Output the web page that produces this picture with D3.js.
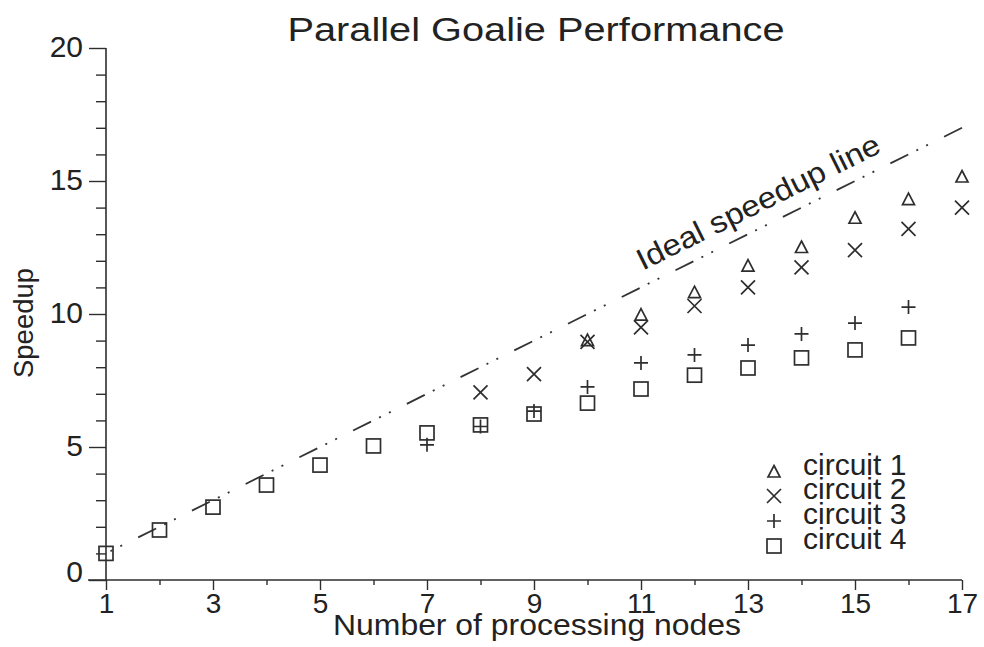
<!DOCTYPE html>
<html>
<head>
<meta charset="utf-8">
<script src="https://cdn.jsdelivr.net/npm/d3@7/dist/d3.min.js"></script>
<style>
  html, body { margin: 0; padding: 0; background: #fff; }
  svg { display: block; }
  text { font-family: "Liberation Sans", Arial, Helvetica, sans-serif; fill: #222; }
</style>
</head>
<body>
<svg id="chart" width="984" height="647"></svg>
<script>
// ---- data ----
const title = "Parallel Goalie Performance";
const xLabel = "Number of processing nodes";
const yLabel = "Speedup";
const idealLabel = "Ideal speedup line";
const seriesNames = ["circuit 1", "circuit 2", "circuit 3", "circuit 4"];
const seriesSymbols = ["triangle", "cross", "plus", "square"];
const nodes = [1, 2, 3, 4, 5, 6, 7, 8, 9, 10, 11, 12, 13, 14, 15, 16, 17];
// null = point hidden under another marker in the original (not visible)
const circuit1 = [null, null, null, null, null, null, null, null, null, 9.0, 9.96, 10.8, 11.8, 12.5, 13.6, 14.3, 15.15];
const circuit2 = [null, null, null, null, null, null, null, 7.05, 7.74, 8.95, 9.5, 10.3, 11.0, 11.75, 12.4, 13.2, 14.0];
const circuit3 = [null, null, null, null, null, null, 5.08, 5.77, 6.35, 7.26, 8.16, 8.46, 8.83, 9.25, 9.66, 10.26];
const circuit4 = [1, 1.88, 2.74, 3.57, 4.32, 5.04, 5.53, 5.83, 6.24, 6.65, 7.18, 7.7, 7.97, 8.35, 8.65, 9.1];
const idealLine = [[1, 1], [17, 17]];
const xMajorTicks = [1, 3, 5, 7, 9, 11, 13, 15, 17];
const xMinorTicks = [2, 4, 6, 8, 10, 12, 14, 16];
const yMajorTicks = [0, 5, 10, 15, 20];
const yMinorTicks = d3.range(0, 21);

const seriesValues = [circuit1, circuit2, circuit3, circuit4];

// ---- layout ----
const svg = d3.select("#chart");
const ink = "#2e2e2e";
const x = d3.scaleLinear().domain([1, 17]).range([106, 962]);
const y = d3.scaleLinear().domain([0, 20]).range([580, 48]);
const fam = '"Liberation Sans", Arial, Helvetica, sans-serif';

// title
svg.append("text").attr("x", 536).attr("y", 41).attr("text-anchor", "middle")
  .attr("font-size", 34).attr("textLength", 497).attr("lengthAdjust", "spacingAndGlyphs")
  .text(title);

// x axis
svg.append("line").attr("x1", 88).attr("x2", x(17)).attr("y1", y(0)).attr("y2", y(0))
  .attr("stroke", ink).attr("stroke-width", 1.6);
svg.append("g").attr("transform", `translate(0,${y(0)})`)
  .call(d3.axisBottom(x).tickValues(xMinorTicks).tickSize(5).tickFormat(""))
  .call(g => g.select(".domain").remove())
  .call(g => g.selectAll("line").attr("stroke", ink).attr("stroke-width", 1.4));
svg.append("g").attr("transform", `translate(0,${y(0)})`)
  .call(d3.axisBottom(x).tickValues(xMajorTicks).tickSize(10).tickPadding(3).tickFormat(d3.format("d")))
  .call(g => g.select(".domain").remove())
  .call(g => g.selectAll("line").attr("stroke", ink).attr("stroke-width", 1.4))
  .call(g => g.selectAll("text").attr("font-size", 28).attr("font-family", null).attr("fill", "#222")
      .attr("dy", "0.71em"));

// y axis
svg.append("line").attr("x1", x(1)).attr("x2", x(1)).attr("y1", y(20)).attr("y2", y(0))
  .attr("stroke", ink).attr("stroke-width", 1.6);
svg.append("g").attr("transform", `translate(${x(1)},0)`)
  .call(d3.axisLeft(y).tickValues(yMinorTicks.filter(v => v % 5 !== 0)).tickSize(10).tickFormat(""))
  .call(g => g.select(".domain").remove())
  .call(g => g.selectAll("line").attr("stroke", ink).attr("stroke-width", 1.4));
svg.append("g").attr("transform", `translate(${x(1)},0)`)
  .call(d3.axisLeft(y).tickValues(yMajorTicks).tickSize(17).tickPadding(6).tickFormat(d3.format("d")))
  .call(g => g.select(".domain").remove())
  .call(g => g.selectAll("line").attr("stroke", ink).attr("stroke-width", 1.4))
  .call(g => g.selectAll("text").attr("font-size", 30).attr("font-family", null).attr("fill", "#222")
      .attr("dy", d => d === 0 ? "0.05em" : "0.28em"));
svg.selectAll(".tick text").style("font-family", fam);

// axis titles
svg.append("text").attr("x", 537).attr("y", 635).attr("text-anchor", "middle")
  .attr("font-size", 29).attr("textLength", 408).attr("lengthAdjust", "spacingAndGlyphs")
  .text(xLabel);
svg.append("text").attr("transform", "translate(33,323) rotate(-90)").attr("text-anchor", "middle")
  .attr("font-size", 28).attr("textLength", 110).attr("lengthAdjust", "spacingAndGlyphs").text(yLabel);

// ideal speedup line
const ix1 = x(idealLine[0][0]), iy1 = y(idealLine[0][1]);
const ix2 = x(idealLine[1][0]), iy2 = y(idealLine[1][1]);
const lineLen = Math.hypot(ix2 - ix1, iy2 - iy1);
const period = 60;
svg.append("line")
  .attr("x1", ix1).attr("y1", iy1).attr("x2", ix2).attr("y2", iy2)
  .attr("stroke", "#333").attr("stroke-width", 1.8)
  .attr("stroke-dasharray", "20,9,2,9,2,18")
  .attr("stroke-dashoffset", ((20 - lineLen) % period + period) % period);

const angle = Math.atan2(iy2 - iy1, ix2 - ix1) * 180 / Math.PI;
const lblN = 11.15;
svg.append("text")
  .attr("transform", `translate(${x(lblN)},${y(lblN)}) rotate(${angle}) translate(0,-14)`)
  .attr("font-size", 30).attr("textLength", 268).attr("lengthAdjust", "spacingAndGlyphs")
  .text(idealLabel);

// symbols
function drawSymbol(g, type, cx, cy) {
  const s = 7;
  if (type === "triangle") {
    g.append("path").attr("d", `M${cx},${cy - 6.5}L${cx + 6},${cy + 5}L${cx - 6},${cy + 5}Z`)
      .attr("fill", "none").attr("stroke", ink).attr("stroke-width", 1.7);
  } else if (type === "cross") {
    g.append("path").attr("d", `M${cx - s},${cy - s}L${cx + s},${cy + s}M${cx - s},${cy + s}L${cx + s},${cy - s}`)
      .attr("fill", "none").attr("stroke", ink).attr("stroke-width", 1.7);
  } else if (type === "plus") {
    g.append("path").attr("d", `M${cx - s},${cy}L${cx + s},${cy}M${cx},${cy - s}L${cx},${cy + s}`)
      .attr("fill", "none").attr("stroke", ink).attr("stroke-width", 1.7);
  } else {
    g.append("rect").attr("x", cx - 7).attr("y", cy - 7).attr("width", 14).attr("height", 14)
      .attr("fill", "none").attr("stroke", ink).attr("stroke-width", 1.7);
  }
}

const marks = svg.append("g");
for (let si = seriesValues.length - 1; si >= 0; si--) {
  seriesValues[si].forEach((v, i) => {
    if (v !== null) drawSymbol(marks, seriesSymbols[si], x(nodes[i]), y(v));
  });
}

// legend
const legend = svg.append("g");
const legendY = [472, 496, 521, 546];
seriesNames.forEach((name, i) => {
  drawSymbol(legend, seriesSymbols[i], 774, legendY[i]);
  legend.append("text").attr("x", 803).attr("y", legendY[i] + 3)
    .attr("font-size", 30).text(name);
});
</script>
</body>
</html>
